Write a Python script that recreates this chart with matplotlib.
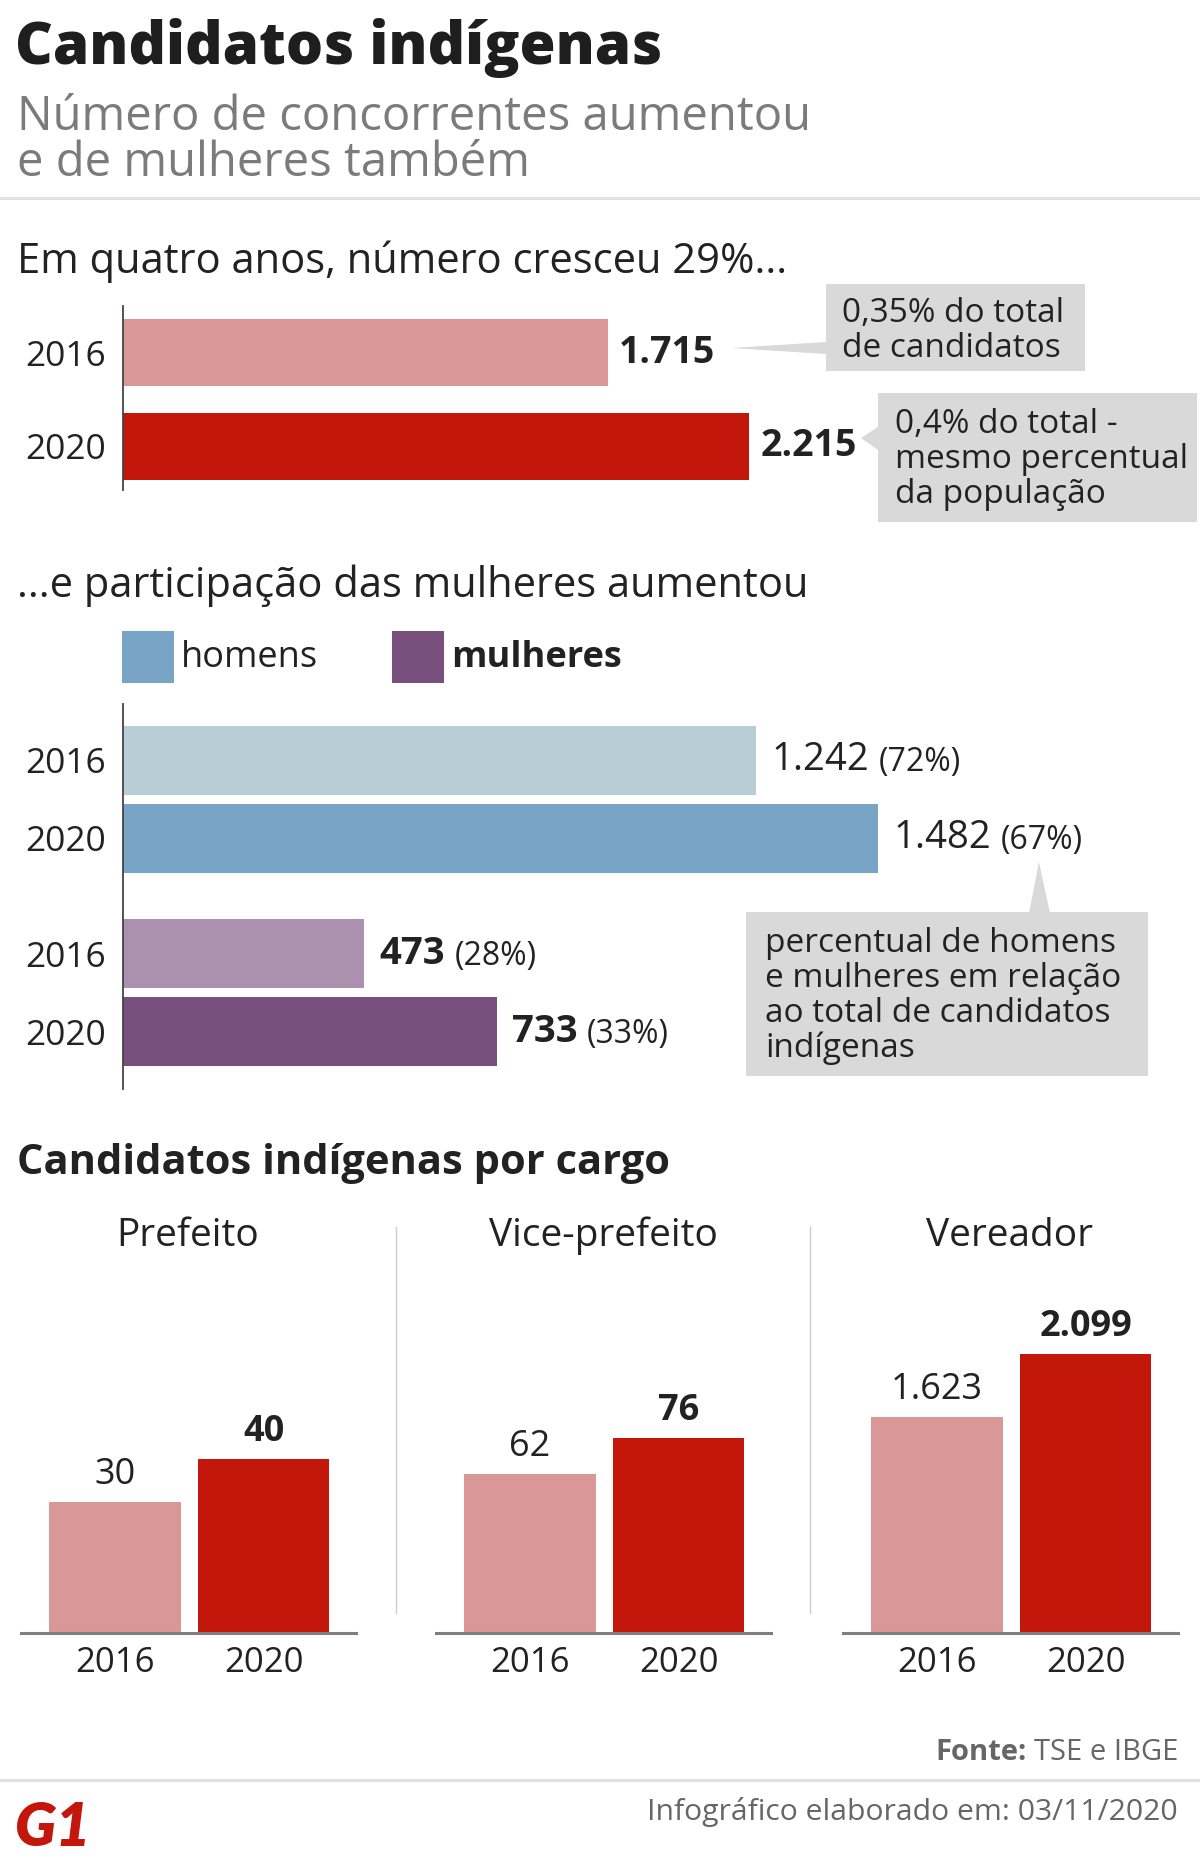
import matplotlib
matplotlib.use("Agg")
import matplotlib.pyplot as plt
from matplotlib.patches import Rectangle, Polygon
from matplotlib.lines import Line2D
from matplotlib.text import Annotation
from matplotlib.transforms import Affine2D

plt.rcParams["font.family"] = ["Open Sans", "DejaVu Sans"]

W, H = 1200, 1872

# --- data ---
anos = ["2016", "2020"]
total = [1715, 2215]
total_labels = ["1.715", "2.215"]

homens = [1242, 1482]
homens_labels = ["1.242", "1.482"]
homens_pct = ["(72%)", "(67%)"]
mulheres = [473, 733]
mulheres_labels = ["473", "733"]
mulheres_pct = ["(28%)", "(33%)"]

cargos = ["Prefeito", "Vice-prefeito", "Vereador"]
cargo_valores = [[30, 40], [62, 76], [1623, 2099]]
cargo_labels = [["30", "40"], ["62", "76"], ["1.623", "2.099"]]
cargo_ylim = [93.1, 157.8, 3047]

# --- colors ---
DARK = "#222222"
PINK = "#d99797"
RED = "#c4170c"
H16, H20 = "#b9cdd6", "#78a5c5"
M16, M20 = "#ac91ae", "#79507d"
BOX = "#d9d9d9"

fig = plt.figure(figsize=(W / 100, H / 100), dpi=100)
px = Affine2D().scale(1 / W, -1 / H).translate(0, 1) + fig.transFigure


def add_ax(x0, y0, x1, y1):
    ax = fig.add_axes([x0 / W, 1 - y1 / H, (x1 - x0) / W, (y1 - y0) / H])
    ax.set_facecolor("none")
    for s in ax.spines.values():
        s.set_visible(False)
    return ax


def put(x, y, s, size, **kw):
    kw.setdefault("color", DARK)
    kw.setdefault("va", "baseline")
    return fig.text(x, y, s, fontsize=size, transform=px, **kw)


def lines(x, y, text, size, pitch):
    for k, line in enumerate(text.split("\n")):
        put(x, y + k * pitch, line, size)


def callout(box, tip):
    x0, y0, x1, y1 = box
    fig.add_artist(Rectangle((x0, y0), x1 - x0, y1 - y0, transform=px,
                             facecolor=BOX, edgecolor="none", zorder=2))
    fig.add_artist(Polygon(tip, closed=True, transform=px,
                           facecolor=BOX, edgecolor="none", zorder=2))


# --- header ---
put(15, 64, "Candidatos indígenas", 42, fontweight=800, color="#1e1e1e")
put(17, 130, "Número de concorrentes aumentou", 34, color="#7b7b7b")
put(17, 176, "e de mulheres também", 34, color="#7b7b7b")
fig.add_artist(Line2D([0, W], [198, 198], transform=px, color="#e0e0e0", lw=2.2))

# --- chart 1: total ---
put(17, 273, "Em quatro anos, número cresceu 29%...", 30)
ax1 = add_ax(123, 306, W, 490)
pos1 = [0, 1]
ax1.barh(pos1, total, height=0.71, color=[PINK, RED])
ax1.set_xlim(0, 3810)
ax1.set_ylim(1.463, -0.495)
ax1.spines["left"].set_visible(True)
ax1.spines["left"].set_color("#444444")
ax1.spines["left"].set_linewidth(1.3)
ax1.set_xticks([])
ax1.set_yticks(pos1, anos)
ax1.tick_params(axis="y", length=0, pad=12, labelsize=25.5, labelcolor=DARK)
for p, v, lbl in zip(pos1, total, total_labels):
    ax1.annotate(lbl, xy=(v, p), xytext=(11, 0), textcoords="offset pixels",
                 va="center", fontsize=27, fontweight="bold", color=DARK)

callout((826, 284, 1085, 371), [(826, 342), (731, 348), (826, 354)])
lines(842, 322, "0,35% do total\nde candidatos", 24, 35)
callout((878, 393, 1197, 522), [(878, 427), (861, 438), (878, 450)])
lines(895, 433, "0,4% do total -\nmesmo percentual\nda população", 24, 35)

# --- chart 2: homens x mulheres ---
put(17, 597, "...e participação das mulheres aumentou", 30)
fig.add_artist(Rectangle((122, 631), 52, 52, transform=px, facecolor=H20, edgecolor="none"))
put(181, 667, "homens", 26)
fig.add_artist(Rectangle((392, 631), 52, 52, transform=px, facecolor=M20, edgecolor="none"))
put(451, 667, "mulheres", 26, fontweight="bold")

ax2 = add_ax(123, 704, W, 1089)
pos_h = [0, 1]
pos_m = [2.48, 3.48]
ax2.barh(pos_h, homens, height=0.885, color=[H16, H20])
ax2.barh(pos_m, mulheres, height=0.885, color=[M16, M20])
ax2.set_xlim(0, 2113)
ax2.set_ylim(4.217, -0.724)
ax2.spines["left"].set_visible(True)
ax2.spines["left"].set_color("#444444")
ax2.spines["left"].set_linewidth(1.3)
ax2.set_xticks([])
ax2.set_yticks(pos_h + pos_m, anos + anos)
ax2.tick_params(axis="y", length=0, pad=12, labelsize=25.5, labelcolor=DARK)
for pos, vals, labels, pcts, weight in [(pos_h, homens, homens_labels, homens_pct, "normal"),
                                        (pos_m, mulheres, mulheres_labels, mulheres_pct, "bold")]:
    for p, v, lbl, pct in zip(pos, vals, labels, pcts):
        t = ax2.annotate(lbl, xy=(v, p), xytext=(15, 0), textcoords="offset pixels",
                         va="center", fontsize=27.5, fontweight=weight, color=DARK)
        ax2.annotate(pct, xy=(1, 0), xycoords=t, xytext=(10, 0), textcoords="offset pixels",
                     va="bottom", fontsize=23, color=DARK)

callout((746, 912, 1148, 1076), [(1029, 913), (1039, 862), (1050, 913)])
lines(765, 952, "percentual de homens\ne mulheres em relação\nao total de candidatos\nindígenas", 24, 35)

# --- chart 3: por cargo ---
put(17, 1174, "Candidatos indígenas por cargo", 30, fontweight="bold")
panel_x = [21, 436, 843]
for k, (cargo, vals, labels, top) in enumerate(zip(cargos, cargo_valores, cargo_labels, cargo_ylim)):
    x0 = panel_x[k]
    ax = add_ax(x0, 1228, x0 + 335, 1633)
    pos = [0, 1]
    ax.bar(pos, vals, width=0.883, color=[PINK, RED])
    ax.set_xlim(-0.63, 1.62)
    ax.set_ylim(0, top)
    ax.spines["bottom"].set_visible(True)
    ax.spines["bottom"].set_color("#7f7f7f")
    ax.spines["bottom"].set_linewidth(2.2)
    ax.set_yticks([])
    ax.set_xticks(pos, anos)
    ax.tick_params(axis="x", length=0, pad=9, labelsize=25, labelcolor=DARK)
    for p, v, lbl, w in zip(pos, vals, labels, ["normal", "bold"]):
        ax.annotate(lbl, xy=(p, v), xytext=(0, 18), textcoords="offset pixels",
                    ha="center", va="baseline", fontsize=26, fontweight=w, color=DARK)
    put(x0 + 167, 1246, cargo, 28, ha="center", fontweight=500)

for xs in [396, 810]:
    fig.add_artist(Line2D([xs, xs], [1227, 1613], transform=px, color="#cccccc", lw=1))

# --- footer ---
t = put(1178, 1760, "TSE e IBGE", 21, ha="right", color="#666666")
fig.add_artist(Annotation("Fonte:", xy=(0, 0), xycoords=t, xytext=(-7, 0),
                          textcoords="offset pixels", ha="right", va="bottom",
                          fontsize=21, fontweight="bold", color="#666666"))
fig.add_artist(Line2D([0, W], [1780, 1780], transform=px, color="#e0e0e0", lw=2.2))
put(1178, 1820, "Infográfico elaborado em: 03/11/2020", 21.7, ha="right", color="#666666")
put(14, 1846, "G1", 44, fontfamily=["Lato", "DejaVu Sans"], fontweight="heavy",
    fontstyle="italic", color=RED)

fig.savefig("out.png", dpi=100)
